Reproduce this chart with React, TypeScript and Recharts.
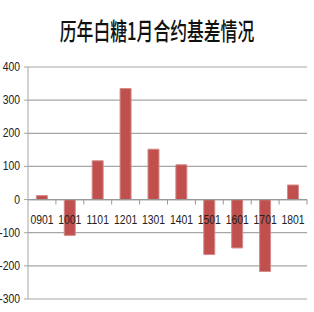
import React from 'react';
import { BarChart, Bar, XAxis, YAxis, CartesianGrid, ReferenceLine } from 'recharts';

const contracts = ['0901', '1001', '1101', '1201', '1301', '1401', '1501', '1601', '1701', '1801'];
const basis = [12, -108, 117, 335, 152, 105, -166, -146, -217, 44];
const yTicks = [-300, -200, -100, 0, 100, 200, 300, 400];

const data = contracts.map((c, i) => ({ contract: c, basis: basis[i] }));

const W = 314;
const H = 312;
const PLOT_LEFT = 28;
const PLOT_RIGHT = 307;
const PLOT_TOP = 67;
const PLOT_BOTTOM = 299;
const Y_MIN = -300;
const Y_MAX = 400;

const zeroY = PLOT_TOP + ((PLOT_BOTTOM - PLOT_TOP) * Y_MAX) / (Y_MAX - Y_MIN);
const band = (PLOT_RIGHT - PLOT_LEFT) / contracts.length;

const labelFont = '"Liberation Sans Narrow", "Liberation Sans", sans-serif';

// category labels sit just under the zero line, like the Excel original
const XTick = (props: any) => {
  const { x, payload } = props;
  return (
    <g>
      <line x1={x + band / 2} x2={x + band / 2} y1={zeroY} y2={zeroY + 5} stroke="#999" />
      <text
        transform={`translate(${x},${zeroY + 24}) scale(0.8,1)`}
        textAnchor="middle"
        fontSize={13}
        fontFamily={labelFont}
        fill="#222"
      >
        {payload.value}
      </text>
    </g>
  );
};

const YTick = (props: any) => {
  const { x, y, payload } = props;
  return (
    <text
      transform={`translate(${x - 2},${y + 4}) scale(0.8,1)`}
      textAnchor="end"
      fontSize={13}
      fontFamily={labelFont}
      fill="#222"
    >
      {payload.value}
    </text>
  );
};

const App: React.FC = () => {
  return (
    <div style={{ position: 'absolute', left: 0, top: 0, width: W, height: H, background: '#fff' }}>
      <div
        style={{
          position: 'absolute',
          top: 12,
          left: 0,
          width: W,
          textAlign: 'center',
          fontFamily: '"Noto Sans CJK SC", sans-serif',
          fontSize: 24,
          fontWeight: 500,
          color: '#111',
          transform: 'scaleX(0.7)',
          whiteSpace: 'nowrap',
        }}
      >
        历年白糖1月合约基差情况
      </div>
      <BarChart
        width={W}
        height={H}
        data={data}
        margin={{ top: PLOT_TOP, right: W - PLOT_RIGHT, left: 0, bottom: H - PLOT_BOTTOM - 1 }}
        barCategoryGap="30%"
      >
        <CartesianGrid vertical={false} stroke="#a6a6a6" strokeWidth={1.2} />
        <XAxis
          dataKey="contract"
          height={1}
          axisLine={false}
          tickLine={false}
          interval={0}
          tick={<XTick />}
        />
        <YAxis
          width={PLOT_LEFT}
          domain={[Y_MIN, Y_MAX]}
          ticks={yTicks}
          interval={0}
          stroke="#a6a6a6"
          tickSize={4}
          tick={<YTick />}
        />
        <ReferenceLine y={0} stroke="#999" strokeWidth={1.2} />
        <Bar dataKey="basis" fill="#c0504d" stroke="#d58a88" strokeWidth={1} isAnimationActive={false} />
      </BarChart>
    </div>
  );
};

export default App;
